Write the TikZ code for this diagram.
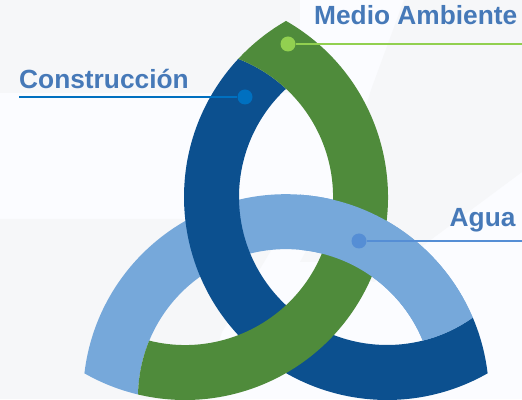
\documentclass[tikz,border=0pt]{standalone}
\usepackage{fontspec}
\setmainfont{Liberation Sans}
\definecolor{bgwhite}{HTML}{FBFCFF}
\definecolor{bggray}{HTML}{F6F7F9}
\definecolor{ringgreen}{HTML}{4F8B3B}
\definecolor{ringblue}{HTML}{0C508F}
\definecolor{ringlight}{HTML}{76A8DA}
\definecolor{labelblue}{HTML}{4679B8}
\definecolor{dotgreen}{HTML}{92D050}
\definecolor{dotblue}{HTML}{0070C0}
\definecolor{dotlight}{HTML}{558ED5}
\tikzset{
  labeltext/.style={anchor=base west,inner sep=0pt,font=\bfseries\fontsize{26.3}{28}\selectfont,text=labelblue},
  dotnode/.style={circle,inner sep=0pt,minimum size=15pt},
  leader/.style={line width=2.9pt}
}
\newcommand{\greenband}{([shift={(G)}]60.16:203)
  arc[start angle=60.16,end angle=-103.38,radius=203pt]
  arc[start angle=178.96,end angle=157.54,radius=148pt]
  arc[start angle=-104.00,end angle=68.93,radius=148pt]
  arc[start angle=137.13,end angle=119.84,radius=203pt] -- cycle}
\newcommand{\blueband}{([shift={(B)}]137.13:203)
  arc[start angle=137.13,end angle=299.71,radius=203pt]
  arc[start angle=6.75,end angle=23.08,radius=203pt]
  arc[start angle=305.42,end angle=133.03,radius=148pt]
  arc[start angle=46.97,end angle=68.93,radius=148pt] -- cycle}
\newcommand{\lightband}{([shift={(L)}]173.25:203)
  arc[start angle=173.25,end angle=23.08,radius=203pt]
  arc[start angle=305.42,end angle=284.00,radius=148pt]
  arc[start angle=22.46,end angle=178.96,radius=148pt]
  arc[start angle=-103.38,end angle=-119.71,radius=203pt] -- cycle}
\begin{document}
\begin{tikzpicture}[x=1pt,y=1pt]
\useasboundingbox (0,0) rectangle (522,399);
% background
\fill[bgwhite] (0,0) rectangle (522,399);
\fill[bggray] (0,399) -- (300,399) -- (300,306) -- (0,306) -- cycle;
\fill[bggray] (0,180) -- (290,180) -- (222,67) -- (200,0) -- (0,0) -- cycle;
\fill[bggray] (404,399) -- (522,399) -- (522,227) -- (374,117) -- (320,137) -- (300,137) -- (340,209) -- (371,309) -- cycle;
% centres of the three circles
\coordinate (G) at (185,202);
\coordinate (B) at (387,202);
\coordinate (L) at (286,1.8);
% bands, woven
\fill[ringlight] \lightband;
\fill[ringblue] \blueband;
\fill[ringgreen] \greenband;
\begin{scope}
  \clip (300,0) rectangle (522,399);
  \fill[ringlight] \lightband;
\end{scope}
% leaders and dots
\coordinate (cEnd) at (19,302);
\coordinate (mEnd) at (522,355);
\coordinate (aEnd) at (522,158);
\node[dotnode,fill=dotblue] (cDot) at (245,302) {};
\node[dotnode,fill=dotgreen] (mDot) at (288,355) {};
\node[dotnode,fill=dotlight] (aDot) at (359,158) {};
\draw[leader,dotblue] (cEnd) -- (cDot);
\draw[leader,dotgreen] (mEnd) -- (mDot);
\draw[leader,dotlight] (aEnd) -- (aDot);
% labels
\node[labeltext] (cLabel) at (19,310.7) {Construcción};
\node[labeltext] (mLabel) at (314,374) {Medio Ambiente};
\node[labeltext] (aLabel) at (449.5,172.6) {Agua};
\end{tikzpicture}
\end{document}
